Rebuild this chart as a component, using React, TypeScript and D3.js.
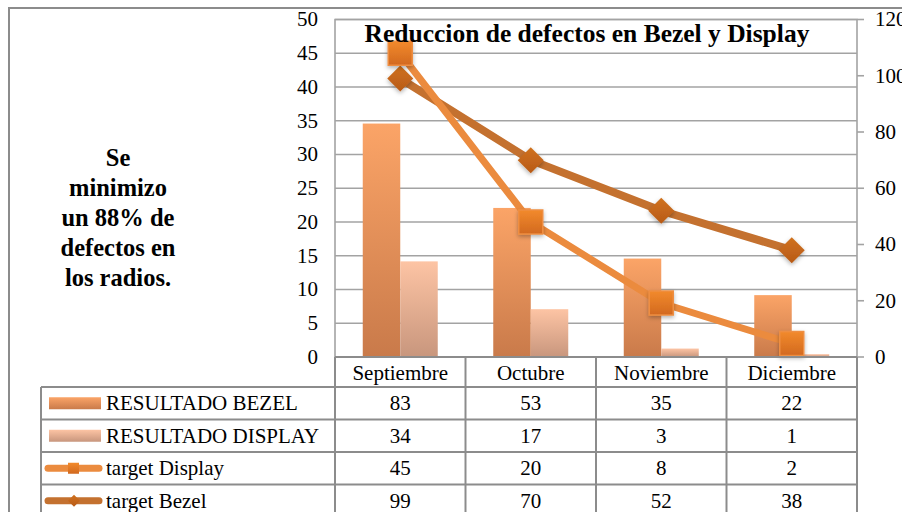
import React, { useRef, useEffect } from "react";
import * as d3 from "d3";

const months = ["Septiembre", "Octubre", "Noviembre", "Diciembre"];
const resultadoBezel = [83, 53, 35, 22];
const resultadoDisplay = [34, 17, 3, 1];
const targetDisplay = [45, 20, 8, 2];
const targetBezel = [99, 70, 52, 38];
const leftTicks = [0, 5, 10, 15, 20, 25, 30, 35, 40, 45, 50];
const rightTicks = [0, 20, 40, 60, 80, 100, 120];
const noteLines = ["Se", "minimizo", "un 88% de", "defectos en", "los radios."];
const title = "Reduccion de defectos en Bezel y Display";

const FONT = '"Liberation Serif", "Times New Roman", serif';
const GRID = "#a3a3a3";
const FRAME = "#8c8c8c";
const FS = 21;

const App = () => {
  const svgRef = useRef<SVGSVGElement>(null);

  useEffect(() => {
    document.body.style.margin = "0";
    const W = 902;
    const H = 512;
    const plot = { left: 335, right: 857, top: 19.5, bottom: 357 };

    const svg = d3.select(svgRef.current).attr("width", W).attr("height", H);
    svg.selectAll("*").remove();

    const defs = svg.append("defs");
    const grad = (id: string, top: string, bottom: string) => {
      const g = defs
        .append("linearGradient")
        .attr("id", id)
        .attr("x1", 0)
        .attr("y1", 0)
        .attr("x2", 0)
        .attr("y2", 1);
      g.append("stop").attr("offset", "0%").attr("stop-color", top);
      g.append("stop").attr("offset", "100%").attr("stop-color", bottom);
    };
    grad("gBezel", "#fba467", "#c97a4a");
    grad("gDisplay", "#fdc4a4", "#c8967d");
    grad("gSquare", "#f28a2c", "#d2691f");
    grad("gDiamond", "#d0721f", "#b85a17");

    const shadow = defs
      .append("filter")
      .attr("id", "shadow")
      .attr("x", "-50%")
      .attr("y", "-50%")
      .attr("width", "200%")
      .attr("height", "200%");
    shadow
      .append("feDropShadow")
      .attr("dx", 0)
      .attr("dy", 2)
      .attr("stdDeviation", 2)
      .attr("flood-color", "#000")
      .attr("flood-opacity", 0.3);

    const root = svg.append("g");

    // outer frame
    root
      .append("path")
      .attr("d", `M9,${H} V8 H${W}`)
      .attr("fill", "none")
      .attr("stroke", FRAME)
      .attr("stroke-width", 2);

    const x = d3
      .scaleBand()
      .domain(months)
      .range([plot.left, plot.right])
      .padding(0);
    const yL = d3.scaleLinear().domain([0, 50]).range([plot.bottom, plot.top]);
    const yR = d3.scaleLinear().domain([0, 120]).range([plot.bottom, plot.top]);
    const inner = d3
      .scaleBand()
      .domain(["bezel", "display"])
      .range([0, 75])
      .padding(0);

    // grid lines
    root
      .append("g")
      .selectAll("line")
      .data(leftTicks.filter((d) => d > 0))
      .enter()
      .append("line")
      .attr("x1", plot.left)
      .attr("x2", plot.right)
      .attr("y1", (d) => yL(d))
      .attr("y2", (d) => yL(d))
      .attr("stroke", GRID)
      .attr("stroke-width", 1.6);

    // plot border
    root
      .append("path")
      .attr(
        "d",
        `M${plot.left},${plot.bottom} V${plot.top} H${plot.right} V${plot.bottom}`
      )
      .attr("fill", "none")
      .attr("stroke", GRID)
      .attr("stroke-width", 1.6);

    // right axis ticks
    root
      .append("g")
      .selectAll("line")
      .data(rightTicks)
      .enter()
      .append("line")
      .attr("x1", plot.right)
      .attr("x2", plot.right + 7)
      .attr("y1", (d) => yR(d))
      .attr("y2", (d) => yR(d))
      .attr("stroke", GRID)
      .attr("stroke-width", 1.6);

    // axis labels
    root
      .append("g")
      .selectAll("text")
      .data(leftTicks)
      .enter()
      .append("text")
      .attr("x", 318)
      .attr("y", (d) => yL(d))
      .attr("dy", "0.33em")
      .attr("text-anchor", "end")
      .attr("font-size", FS)
      .text((d) => d);

    root
      .append("g")
      .selectAll("text")
      .data(rightTicks)
      .enter()
      .append("text")
      .attr("x", 875)
      .attr("y", (d) => yR(d))
      .attr("dy", "0.33em")
      .attr("font-size", FS)
      .text((d) => d);

    // bars (secondary axis)
    const barX = (m: string) => x(m)! + x.bandwidth() / 2 - 37.5;
    root
      .append("g")
      .selectAll("rect")
      .data(months)
      .enter()
      .append("rect")
      .attr("x", (m) => barX(m) + inner("bezel")!)
      .attr("width", inner.bandwidth())
      .attr("y", (m, i) => yR(resultadoBezel[i]))
      .attr("height", (m, i) => plot.bottom - yR(resultadoBezel[i]))
      .attr("fill", "url(#gBezel)");

    root
      .append("g")
      .selectAll("rect")
      .data(months)
      .enter()
      .append("rect")
      .attr("x", (m) => barX(m) + inner("display")!)
      .attr("width", inner.bandwidth())
      .attr("y", (m, i) => yR(resultadoDisplay[i]))
      .attr("height", (m, i) => plot.bottom - yR(resultadoDisplay[i]))
      .attr("fill", "url(#gDisplay)");

    const cx = (m: string) => x(m)! + x.bandwidth() / 2;

    // target Bezel (secondary axis)
    const lineB = d3
      .line<number>()
      .x((d, i) => cx(months[i]))
      .y((d) => yR(d));
    root
      .append("path")
      .datum(targetBezel)
      .attr("d", lineB)
      .attr("fill", "none")
      .attr("stroke", "#c4712f")
      .attr("stroke-width", 8)
      .attr("stroke-linejoin", "round");
    root
      .append("g")
      .selectAll("path")
      .data(targetBezel)
      .enter()
      .append("path")
      .attr("d", "M0,-13 L13,0 L0,13 L-13,0 Z")
      .attr("transform", (d, i) => `translate(${cx(months[i])},${yR(d)})`)
      .attr("fill", "url(#gDiamond)")
      .attr("filter", "url(#shadow)");

    // target Display (primary axis)
    const lineD = d3
      .line<number>()
      .x((d, i) => cx(months[i]))
      .y((d) => yL(d));
    root
      .append("path")
      .datum(targetDisplay)
      .attr("d", lineD)
      .attr("fill", "none")
      .attr("stroke", "#eb8b3e")
      .attr("stroke-width", 7)
      .attr("stroke-linejoin", "round");
    root
      .append("g")
      .selectAll("rect")
      .data(targetDisplay)
      .enter()
      .append("rect")
      .attr("x", (d, i) => cx(months[i]) - 12)
      .attr("y", (d) => yL(d) - 12)
      .attr("width", 24)
      .attr("height", 24)
      .attr("fill", "url(#gSquare)")
      .attr("stroke", "#ee8e42")
      .attr("stroke-width", 1.5)
      .attr("filter", "url(#shadow)");

    // title
    root
      .append("text")
      .attr("x", 587)
      .attr("y", 42)
      .attr("text-anchor", "middle")
      .attr("font-size", 25.5)
      .attr("font-weight", "bold")
      .text(title);

    // side note
    root
      .append("g")
      .selectAll("text")
      .data(noteLines)
      .enter()
      .append("text")
      .attr("x", 118)
      .attr("y", (d, i) => 166 + i * 30)
      .attr("text-anchor", "middle")
      .attr("font-size", 24.5)
      .attr("font-weight", "bold")
      .text((d) => d);

    // data table
    const rowTop = 387;
    const rowH = 32.5;
    const tableLeft = 41;
    const table = root.append("g");
    const rows = [
      { name: "RESULTADO BEZEL", values: resultadoBezel, kind: "bezel" },
      { name: "RESULTADO DISPLAY", values: resultadoDisplay, kind: "display" },
      { name: "target Display", values: targetDisplay, kind: "tDisplay" },
      { name: "target Bezel", values: targetBezel, kind: "tBezel" },
    ];

    const colEdges = [plot.left, ...months.map((m) => x(m)! + x.bandwidth())];
    table
      .selectAll("line.col")
      .data(colEdges)
      .enter()
      .append("line")
      .attr("class", "col")
      .attr("x1", (d) => d)
      .attr("x2", (d) => d)
      .attr("y1", plot.bottom)
      .attr("y2", H)
      .attr("stroke", FRAME)
      .attr("stroke-width", 2);
    table
      .append("line")
      .attr("x1", tableLeft)
      .attr("x2", tableLeft)
      .attr("y1", rowTop)
      .attr("y2", H)
      .attr("stroke", FRAME)
      .attr("stroke-width", 2);
    table
      .selectAll("line.row")
      .data(d3.range(rows.length))
      .enter()
      .append("line")
      .attr("class", "row")
      .attr("x1", tableLeft)
      .attr("x2", plot.right)
      .attr("y1", (i) => rowTop + i * rowH)
      .attr("y2", (i) => rowTop + i * rowH)
      .attr("stroke", FRAME)
      .attr("stroke-width", 2);
    table
      .append("line")
      .attr("x1", plot.left)
      .attr("x2", plot.right)
      .attr("y1", plot.bottom)
      .attr("y2", plot.bottom)
      .attr("stroke", FRAME)
      .attr("stroke-width", 2);

    table
      .selectAll("text.month")
      .data(months)
      .enter()
      .append("text")
      .attr("class", "month")
      .attr("x", (m) => cx(m))
      .attr("y", (plot.bottom + rowTop) / 2 + 1)
      .attr("dy", "0.33em")
      .attr("text-anchor", "middle")
      .attr("font-size", FS)
      .text((m) => m);

    rows.forEach((r, ri) => {
      const yc = rowTop + ri * rowH + rowH / 2;
      table
        .selectAll(`text.v${ri}`)
        .data(r.values)
        .enter()
        .append("text")
        .attr("class", `v${ri}`)
        .attr("x", (d, i) => cx(months[i]))
        .attr("y", yc)
        .attr("dy", "0.33em")
        .attr("text-anchor", "middle")
        .attr("font-size", FS)
        .text((d) => d);

      table
        .append("text")
        .attr("x", 106)
        .attr("y", yc)
        .attr("dy", "0.33em")
        .attr("font-size", FS)
        .text(r.name);

      if (r.kind === "bezel" || r.kind === "display") {
        table
          .append("rect")
          .attr("x", 49)
          .attr("y", yc - 6)
          .attr("width", 52)
          .attr("height", 12)
          .attr("fill", r.kind === "bezel" ? "url(#gBezel)" : "url(#gDisplay)");
      } else if (r.kind === "tDisplay") {
        table
          .append("line")
          .attr("x1", 48)
          .attr("x2", 99)
          .attr("y1", yc)
          .attr("y2", yc)
          .attr("stroke", "#eb8b3e")
          .attr("stroke-width", 7)
          .attr("stroke-linecap", "round");
        table
          .append("rect")
          .attr("x", 68)
          .attr("y", yc - 5.5)
          .attr("width", 11)
          .attr("height", 11)
          .attr("fill", "url(#gSquare)");
      } else {
        table
          .append("line")
          .attr("x1", 48)
          .attr("x2", 99)
          .attr("y1", yc)
          .attr("y2", yc)
          .attr("stroke", "#c4712f")
          .attr("stroke-width", 7)
          .attr("stroke-linecap", "round");
        table
          .append("path")
          .attr("d", "M0,-6 L6,0 L0,6 L-6,0 Z")
          .attr("transform", `translate(74,${yc})`)
          .attr("fill", "url(#gDiamond)");
      }
    });

    // inline font on every text so no outside css overrides it
    root.selectAll("text").style("font-family", FONT).attr("fill", "#000");
  }, []);

  return <svg ref={svgRef} style={{ display: "block" }}></svg>;
};

export default App;
